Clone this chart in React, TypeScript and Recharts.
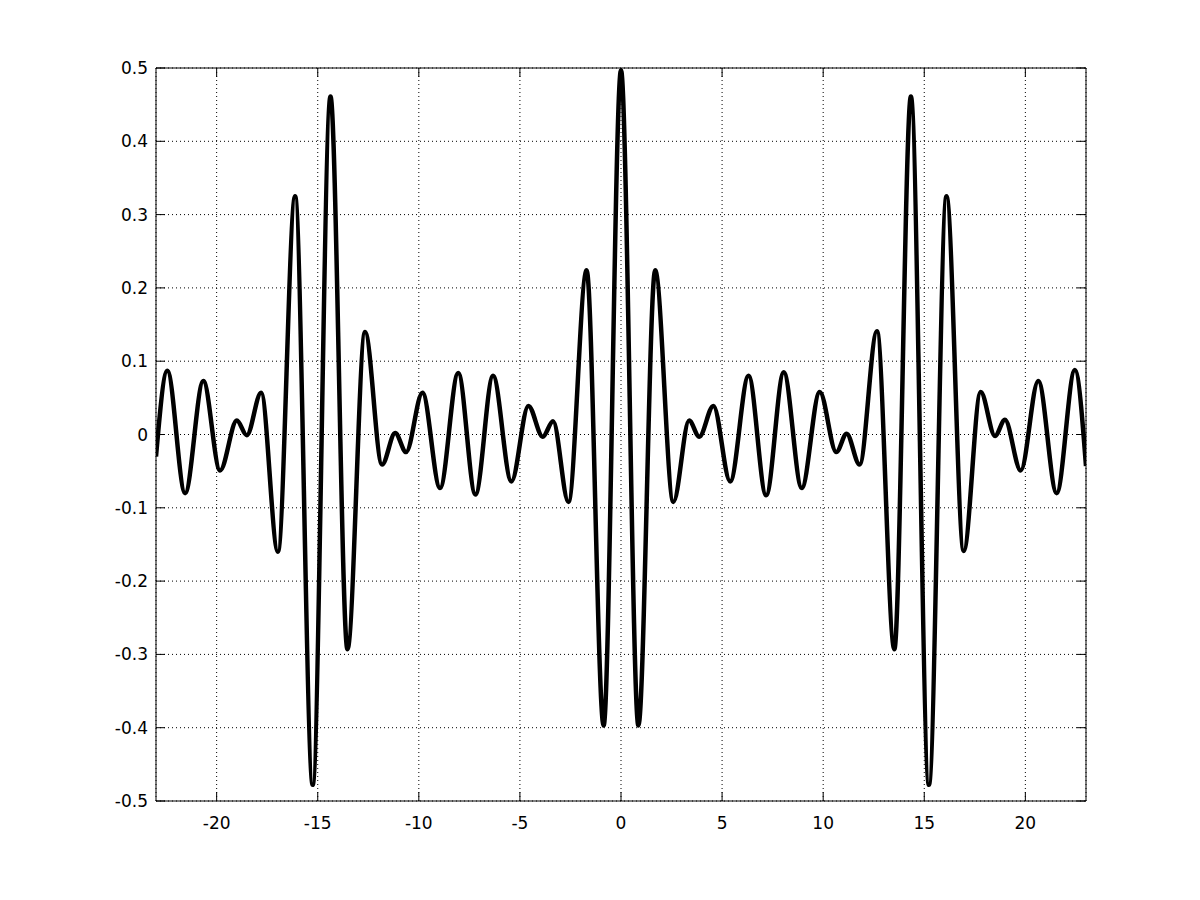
import React from "react";
import { LineChart, Line, XAxis, YAxis, CartesianGrid } from "recharts";

const xValues = [
  -23.0, -22.44, -21.56, -20.66, -19.83, -19.0, -18.51, -17.8, -16.97, -16.12,
  -15.25, -14.37, -13.53, -12.66, -11.82, -11.17, -10.63, -9.82, -8.95, -8.05,
  -7.2, -6.33, -5.42, -4.58, -3.87, -3.36, -2.6, -1.7, -0.86, 0,
  0.86, 1.69, 2.59, 3.37, 3.87, 4.57, 5.4, 6.31, 7.18, 8.05,
  8.94, 9.83, 10.65, 11.16, 11.8, 12.66, 13.52, 14.34, 15.23, 16.1,
  16.95, 17.79, 18.5, 18.99, 19.77, 20.64, 21.55, 22.45, 23.0,
];
const yValues = [
  -0.03, 0.087, -0.08, 0.073, -0.049, 0.019, -0.001, 0.057, -0.16, 0.325,
  -0.478, 0.461, -0.293, 0.14, -0.041, 0.002, -0.024, 0.057, -0.073, 0.084,
  -0.082, 0.08, -0.064, 0.039, -0.003, 0.018, -0.092, 0.224, -0.397, 0.497,
  -0.397, 0.224, -0.092, 0.019, -0.003, 0.039, -0.064, 0.08, -0.083, 0.085,
  -0.073, 0.058, -0.024, 0.001, -0.041, 0.141, -0.293, 0.461, -0.478, 0.325,
  -0.159, 0.058, -0.002, 0.02, -0.049, 0.073, -0.08, 0.088, -0.043,
];
const xTicks = [-20, -15, -10, -5, 0, 5, 10, 15, 20];
const yTicks = [-0.5, -0.4, -0.3, -0.2, -0.1, 0, 0.1, 0.2, 0.3, 0.4, 0.5];
const xTickLabels = ["-20", "-15", "-10", "-5", "0", "5", "10", "15", "20"];
const yTickLabels = ["-0.5", "-0.4", "-0.3", "-0.2", "-0.1", "0", "0.1", "0.2", "0.3", "0.4", "0.5"];

const data = xValues.map((x, i) => ({ x, y: yValues[i] }));

const FONT = "'DejaVu Sans', 'Liberation Sans', Arial, sans-serif";
const TICK_LEN = 9;

const BottomTick = (props: any) => {
  const { x, y, payload } = props;
  const idx = xTicks.indexOf(payload.value);
  return (
    <g>
      <line x1={x} x2={x} y1={y} y2={y - TICK_LEN} stroke="#000" strokeWidth={1} />
      <text x={x} y={y + 28} textAnchor="middle" fontFamily={FONT} fontSize={17} fill="#000">
        {idx >= 0 ? xTickLabels[idx] : String(payload.value)}
      </text>
    </g>
  );
};
const TopTick = (props: any) => {
  const { x, y } = props;
  return <line x1={x} x2={x} y1={y} y2={y + TICK_LEN} stroke="#000" strokeWidth={1} />;
};
const LeftTick = (props: any) => {
  const { x, y, payload } = props;
  const idx = yTicks.indexOf(payload.value);
  return (
    <g>
      <line x1={x} x2={x + TICK_LEN} y1={y} y2={y} stroke="#000" strokeWidth={1} />
      <text x={x - 8} y={y + 6} textAnchor="end" fontFamily={FONT} fontSize={17} fill="#000">
        {idx >= 0 ? yTickLabels[idx] : String(payload.value)}
      </text>
    </g>
  );
};
const RightTick = (props: any) => {
  const { x, y } = props;
  return <line x1={x} x2={x - TICK_LEN} y1={y} y2={y} stroke="#000" strokeWidth={1} />;
};

export default function App() {
  return (
    <div style={{ width: 1184, height: 884, background: "#fff" }}>
      <LineChart
        width={1184}
        height={884}
        data={data}
        margin={{ top: 50, right: 96, left: 138, bottom: 81 }}
      >
        <CartesianGrid
          xAxisId="b"
          yAxisId="l"
          stroke="#000"
          strokeDasharray="1 3"
          strokeWidth={1}
        />
        <XAxis
          xAxisId="b"
          dataKey="x"
          type="number"
          domain={[-23, 23]}
          ticks={xTicks}
          interval={0}
          allowDataOverflow
          orientation="bottom"
          height={10}
          tickSize={0}
          tickMargin={0}
          tickLine={false}
          axisLine={{ stroke: "#000", strokeWidth: 1 }}
          tick={<BottomTick />}
        />
        <XAxis
          xAxisId="t"
          dataKey="x"
          type="number"
          domain={[-23, 23]}
          ticks={xTicks}
          interval={0}
          allowDataOverflow
          orientation="top"
          height={10}
          tickSize={0}
          tickMargin={0}
          tickLine={false}
          axisLine={{ stroke: "#000", strokeWidth: 1 }}
          tick={<TopTick />}
        />
        <YAxis
          yAxisId="l"
          type="number"
          domain={[-0.5, 0.5]}
          ticks={yTicks}
          interval={0}
          allowDataOverflow
          orientation="left"
          width={10}
          tickSize={0}
          tickMargin={0}
          tickLine={false}
          axisLine={{ stroke: "#000", strokeWidth: 1 }}
          tick={<LeftTick />}
        />
        <YAxis
          yAxisId="r"
          type="number"
          domain={[-0.5, 0.5]}
          ticks={yTicks}
          interval={0}
          allowDataOverflow
          orientation="right"
          width={10}
          tickSize={0}
          tickMargin={0}
          tickLine={false}
          axisLine={{ stroke: "#000", strokeWidth: 1 }}
          tick={<RightTick />}
        />
        <Line
          xAxisId="b"
          yAxisId="l"
          type="monotone"
          dataKey="y"
          stroke="#000"
          strokeWidth={4.5}
          dot={false}
          activeDot={false}
          isAnimationActive={false}
        />
      </LineChart>
    </div>
  );
}
